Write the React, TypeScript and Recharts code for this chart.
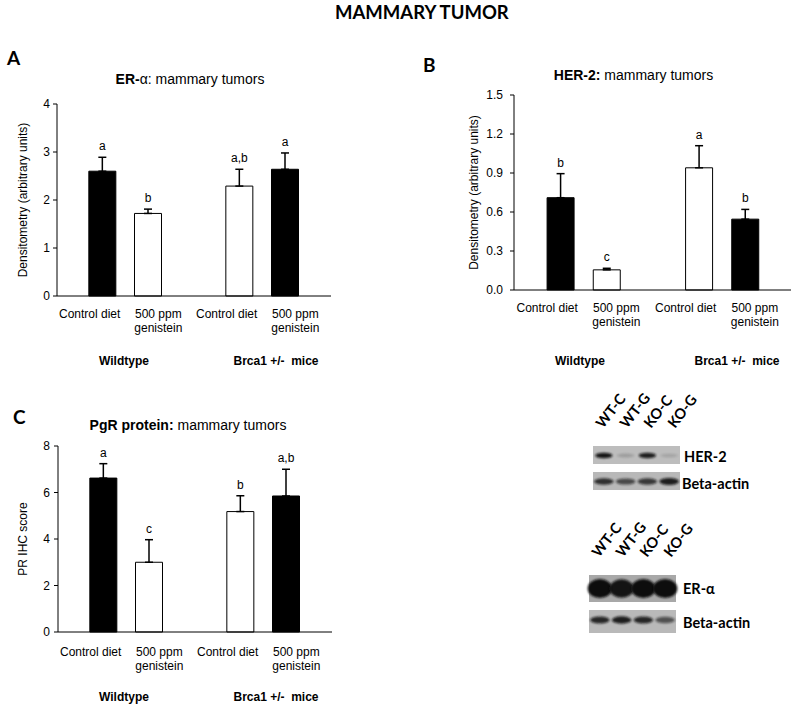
import React from 'react';
import { BarChart, Bar, XAxis, YAxis, ErrorBar, Cell, LabelList } from 'recharts';

const FONT = '"Liberation Sans", Arial, Helvetica, sans-serif';
const HEAD_FONT = 'Lato, "Open Sans", sans-serif';

// shared x layout: two groups of two bars with an empty slot between
const treatments = ['Control diet', '500 ppm\ngenistein', 'Control diet', '500 ppm\ngenistein'];
const slots = [1, 2, 4, 5];
const barFills = ['#000', '#fff', '#fff', '#000'];
const groupNames = ['Wildtype', 'Brca1 +/-  mice'];

// A: ER-alpha densitometry
const erMeans = [2.6, 1.72, 2.29, 2.64];
const erErrors = [0.29, 0.09, 0.35, 0.34];
const erLetters = ['a', 'b', 'a,b', 'a'];
const erTicks = [0, 1, 2, 3, 4];

// B: HER-2 densitometry
const herMeans = [0.71, 0.155, 0.94, 0.545];
const herErrors = [0.185, 0.012, 0.17, 0.075];
const herLetters = ['b', 'c', 'a', 'b'];
const herTicks = [0, 0.3, 0.6, 0.9, 1.2, 1.5];

// C: PgR IHC score
const pgrMeans = [6.62, 3.0, 5.18, 5.85];
const pgrErrors = [0.62, 0.97, 0.68, 1.15];
const pgrLetters = ['a', 'c', 'b', 'a,b'];
const pgrTicks = [0, 2, 4, 6, 8];

// western blots (relative band intensity per lane)
const laneNames = ['WT-C', 'WT-G', 'KO-C', 'KO-G'];
const her2Bands = [0.95, 0.18, 0.9, 0.14];
const actin1Bands = [0.8, 0.65, 0.75, 0.9];
const eraBands = [1, 0.95, 1, 1];
const actin2Bands = [0.85, 0.9, 0.85, 0.6];

// tick labels sit a little off the bar centres in the original
const tickShift = [-13, 10, -13, 10];

function XTick(props: any) {
  const { x, y, payload, dy } = props;
  const i = slots.indexOf(payload.value);
  const lines = (treatments[i] ?? '').split('\n');
  const tx = x + (tickShift[i] ?? 0);
  return (
    <text x={tx} y={y} textAnchor="middle" fontSize={12} fontFamily={FONT} fill="#000">
      {lines.map((l: string, k: number) => (
        <tspan key={k} x={tx} dy={k === 0 ? dy : 14}>{l}</tspan>
      ))}
    </text>
  );
}

type PanelProps = {
  left: number;
  top: number;
  width: number;
  height: number;
  margin: { top: number; right: number; bottom: number; left: number };
  yWidth: number;
  tickMargin: number;
  labelOffset: number;
  yLabel: string;
  max: number;
  ticks: number[];
  decimals: number;
  means: number[];
  errors: number[];
  letters: string[];
  labelDy: number;
};

function Panel(p: PanelProps) {
  const rows = slots.map((s, i) => ({ slot: s, mean: p.means[i], err: [0, p.errors[i]], id: i }));

  const renderLetter = (lp: any) => {
    const vb = lp.viewBox ?? lp;
    const idx = Number(lp.value);
    const { x, y, width, height } = vb;
    const perUnit = height / p.means[idx];
    const errTop = y - p.errors[idx] * perUnit;
    return (
      <text x={x + width / 2} y={errTop - 7} textAnchor="middle" fontSize={12} fontFamily={FONT} fill="#000">
        {p.letters[idx]}
      </text>
    );
  };

  return (
    <div style={{ position: 'absolute', left: p.left, top: p.top }}>
      <BarChart width={p.width} height={p.height} data={rows} margin={p.margin}>
        <XAxis
          dataKey="slot"
          type="number"
          domain={[0, 6]}
          ticks={slots}
          interval={0}
          tick={(tp: any) => <XTick {...tp} dy={p.labelDy} />}
          tickLine={false}
          tickSize={0}
          tickMargin={0}
          height={40}
          axisLine={{ stroke: '#000' }}
        />
        <XAxis
          xAxisId="top"
          orientation="top"
          type="number"
          domain={[0, 6]}
          tick={false}
          tickLine={false}
          height={0}
          axisLine={{ stroke: '#000' }}
        />
        <YAxis
          type="number"
          domain={[0, p.max]}
          ticks={p.ticks}
          interval={0}
          width={p.yWidth}
          tickSize={4}
          tickMargin={p.tickMargin}
          tickLine={{ stroke: '#000' }}
          axisLine={{ stroke: '#000' }}
          tick={{ fontSize: 12, fontFamily: FONT, fill: '#000' }}
          tickFormatter={(v: number) => v.toFixed(p.decimals)}
          label={{
            value: p.yLabel,
            angle: -90,
            position: 'insideLeft',
            offset: p.labelOffset,
            style: { textAnchor: 'middle', fontSize: 12, fontFamily: FONT, fill: '#000' },
          }}
        />
        <YAxis
          yAxisId="right"
          orientation="right"
          type="number"
          domain={[0, p.max]}
          tick={false}
          tickLine={false}
          width={0}
          axisLine={{ stroke: '#000' }}
        />
        <Bar dataKey="mean" barSize={27} isAnimationActive={false}>
          {rows.map((r, i) => (
            <Cell key={r.id} fill={barFills[i]} stroke="#000" strokeWidth={1} />
          ))}
          <ErrorBar dataKey="err" direction="y" width={4} stroke="#000" strokeWidth={1.5} isAnimationActive={false} />
          <LabelList dataKey="id" content={renderLetter} />
        </Bar>
      </BarChart>
    </div>
  );
}

function Blot({ x, y, w, h, bands, ry, bg, cy, spread }: { x: number; y: number; w: number; h: number; bands: number[]; ry: number; bg: string; cy: number; spread: number }) {
  const lane = w / bands.length;
  return (
    <g>
      <rect x={x} y={y} width={w} height={h} fill={bg} />
      {bands.map((b, i) => (
        <ellipse
          key={i}
          cx={x + lane * (i + 0.5)}
          cy={y + cy}
          rx={lane * spread}
          ry={ry * (0.6 + 0.4 * b)}
          fill="#111"
          opacity={b}
          filter="url(#blur)"
        />
      ))}
    </g>
  );
}

function LaneLabels({ x, y }: { x: number; y: number }) {
  return (
    <g>
      {laneNames.map((n, i) => (
        <text
          key={n}
          x={x + i * 24}
          y={y}
          fontSize={14.5}
          fontWeight={700}
          fontFamily={HEAD_FONT}
          fill="#000"
          transform={`rotate(-52 ${x + i * 24} ${y})`}
        >
          {n}
        </text>
      ))}
    </g>
  );
}

function Overlay() {
  const blotLabel = { fontSize: 14.5, fontWeight: 700, fontFamily: HEAD_FONT, fill: '#000' } as const;
  const title = { fontSize: 14, fontFamily: FONT, fill: '#000' } as const;
  const group = { fontSize: 12, fontWeight: 700, fontFamily: FONT, fill: '#000' } as const;
  return (
    <svg width={800} height={711} style={{ position: 'absolute', left: 0, top: 0, pointerEvents: 'none' }}>
      <defs>
        <filter id="blur" x="-30%" y="-60%" width="160%" height="220%">
          <feGaussianBlur stdDeviation="1.3" />
        </filter>
      </defs>
      <text x={335} y={19} fontSize={18.5} fontWeight={700} fontFamily={HEAD_FONT} fill="#000">MAMMARY TUMOR</text>

      <text x={7} y={65} fontSize={19} fontWeight={700} fontFamily={HEAD_FONT}>A</text>
      <text x={423} y={72} fontSize={19} fontWeight={700} fontFamily={HEAD_FONT}>B</text>
      <text x={13} y={423.5} fontSize={19} fontWeight={700} fontFamily={HEAD_FONT}>C</text>

      <text x={190} y={84} textAnchor="middle" {...title}>
        <tspan fontWeight={700}>ER-</tspan>α: mammary tumors
      </text>
      <text x={633.5} y={80} textAnchor="middle" {...title}>
        <tspan fontWeight={700}>HER-2:</tspan> mammary tumors
      </text>
      <text x={188} y={430} textAnchor="middle" {...title}>
        <tspan fontWeight={700}>PgR protein:</tspan> mammary tumors
      </text>

      <text x={124} y={364.5} textAnchor="middle" {...group}>{groupNames[0]}</text>
      <text x={276} y={364.5} textAnchor="middle" {...group} style={{ whiteSpace: 'pre' }}>{groupNames[1]}</text>
      <text x={580} y={364.5} textAnchor="middle" {...group}>{groupNames[0]}</text>
      <text x={737} y={364.5} textAnchor="middle" {...group} style={{ whiteSpace: 'pre' }}>{groupNames[1]}</text>
      <text x={124} y={701} textAnchor="middle" {...group}>{groupNames[0]}</text>
      <text x={276} y={701} textAnchor="middle" {...group} style={{ whiteSpace: 'pre' }}>{groupNames[1]}</text>

      <LaneLabels x={603} y={429} />
      <Blot x={593} y={446} w={87} h={18} bands={her2Bands} ry={2.8} bg="#bdbdbd" cy={9.5} spread={0.4} />
      <Blot x={593} y={472} w={87} h={18} bands={actin1Bands} ry={3.6} bg="#b8b8b8" cy={9.5} spread={0.45} />
      <text x={684} y={462} {...blotLabel}>HER-2</text>
      <text x={682} y={489} {...blotLabel}>Beta-actin</text>

      <LaneLabels x={599} y={558} />
      <Blot x={589} y={575} w={87} h={27} bands={eraBands} ry={9.5} bg="#a8a8a8" cy={13.5} spread={0.56} />
      <Blot x={589} y={610} w={87} h={23} bands={actin2Bands} ry={3.8} bg="#b9b9b9" cy={10} spread={0.45} />
      <text x={683} y={594} {...blotLabel}>ER-α</text>
      <text x={683} y={628} {...blotLabel}>Beta-actin</text>
    </svg>
  );
}

export default function App() {
  return (
    <div style={{ position: 'absolute', left: 0, top: 0, width: 800, height: 711, background: '#fff', overflow: 'hidden' }}>
      <Panel
        left={0}
        top={60}
        width={345}
        height={300}
        margin={{ top: 44, right: 14, bottom: 24, left: 0 }}
        yWidth={57}
        tickMargin={3}
        labelOffset={23}
        yLabel="Densitometry (arbitrary units)"
        max={4}
        ticks={erTicks}
        decimals={0}
        means={erMeans}
        errors={erErrors}
        letters={erLetters}
        labelDy={21.5}
      />
      <Panel
        left={440}
        top={60}
        width={360}
        height={300}
        margin={{ top: 35, right: 9, bottom: 30, left: 0 }}
        yWidth={74}
        tickMargin={7}
        labelOffset={34}
        yLabel="Densitometry (arbitrary units)"
        max={1.5}
        ticks={herTicks}
        decimals={1}
        means={herMeans}
        errors={herErrors}
        letters={herLetters}
        labelDy={22}
      />
      <Panel
        left={0}
        top={400}
        width={345}
        height={300}
        margin={{ top: 46, right: 13, bottom: 28, left: 0 }}
        yWidth={58}
        tickMargin={4}
        labelOffset={23}
        yLabel="PR IHC score"
        max={8}
        ticks={pgrTicks}
        decimals={0}
        means={pgrMeans}
        errors={pgrErrors}
        letters={pgrLetters}
        labelDy={24}
      />
      <Overlay />
    </div>
  );
}
